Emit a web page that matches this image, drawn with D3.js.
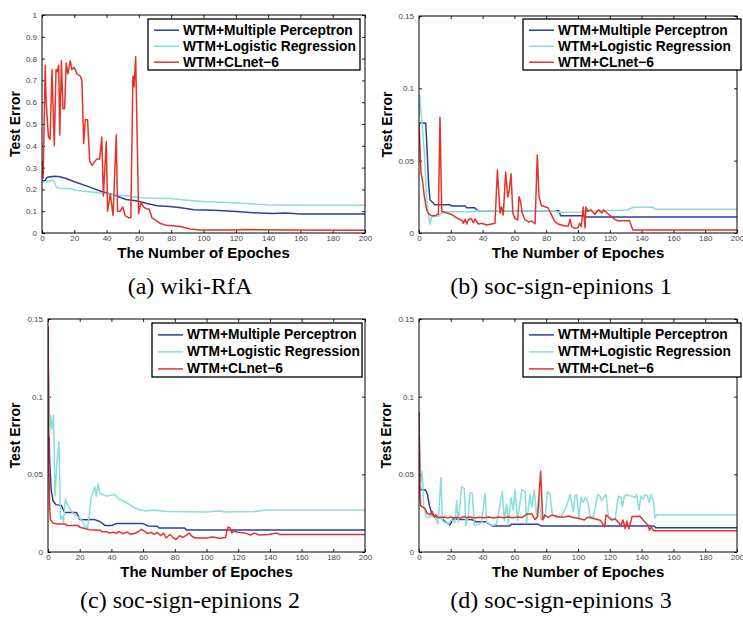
<!DOCTYPE html>
<html>
<head>
<meta charset="utf-8">
<script src="https://cdn.jsdelivr.net/npm/d3@7"></script>
<style>
body { margin: 0; background: #fff; }
text { font-family: Arial, "Liberation Sans", Helvetica, sans-serif; }
</style>
</head>
<body>
<div id="chartArea"></div>
<script>
var epochTicks = [0, 20, 40, 60, 80, 100, 120, 140, 160, 180, 200];
var rfaTicks = [0, 0.1, 0.2, 0.3, 0.4, 0.5, 0.6, 0.7, 0.8, 0.9, 1];
var epinionTicks = [0, 0.05, 0.1, 0.15];
var seriesNames = ['WTM+Multiple Perceptron', 'WTM+Logistic Regression', 'WTM+CLnet\u22126'];
var seriesColors = ['#2d3f9f', '#86dfd8', '#e4332a'];
var captions = ['(a) wiki-RfA', '(b) soc-sign-epinions 1', '(c) soc-sign-epinions 2', '(d) soc-sign-epinions 3'];

// (a) wiki-RfA  [epoch, test error]
var rfaMLP = [[0,0.24],[2,0.24],[3,0.255],[5,0.258],[8,0.26],[11,0.258],[15,0.25],[20,0.235],[28,0.215],[36,0.193],[44,0.176],[52,0.154],[59,0.147],[65,0.135],[71,0.125],[79,0.122],[86,0.116],[94,0.107],[106,0.104],[118,0.1],[131,0.093],[143,0.089],[151,0.092],[160,0.087],[200,0.087]];
var rfaLR = [[0,0.235],[3,0.235],[7,0.242],[9,0.21],[11,0.204],[17,0.204],[21,0.196],[36,0.184],[53,0.17],[61,0.162],[79,0.158],[90,0.15],[100,0.144],[119,0.139],[139,0.13],[160,0.127],[200,0.127]];
var rfaCL = [[0,0.33],[0.7,0.25],[2,0.77],[2.6,0.6],[4,0.44],[5,0.43],[6.2,0.75],[7.6,0.40],[8.7,0.75],[9.5,0.74],[10.3,0.77],[11,0.45],[12,0.79],[13,0.57],[14,0.57],[15,0.78],[16,0.73],[17.5,0.79],[18.5,0.75],[20,0.76],[21.6,0.73],[23.7,0.72],[24.7,0.70],[25.8,0.41],[26.8,0.52],[28.2,0.52],[29.5,0.33],[31,0.31],[34,0.34],[35.7,0.34],[37,0.44],[38,0.17],[39.8,0.42],[40.6,0.10],[42.3,0.18],[44,0.08],[46,0.45],[46.8,0.10],[48.5,0.10],[50,0.12],[51.5,0.08],[53.6,0.07],[55,0.07],[56.3,0.72],[57,0.67],[58,0.81],[59.8,0.09],[61.2,0.14],[62.9,0.12],[65,0.11],[66.4,0.11],[68,0.07],[73,0.045],[77,0.035],[85.6,0.03],[91.8,0.018],[98,0.014],[120,0.014],[126,0.016],[135,0.015],[150,0.014],[200,0.013]];

// (b) soc-sign-epinions 1
var ep1MLP = [[0,0.076],[4.2,0.076],[5,0.06],[6,0.035],[6.9,0.023],[10,0.0195],[13,0.0195],[19.5,0.0195],[20.5,0.0187],[29,0.0187],[30,0.0175],[35,0.0175],[37,0.0154],[88,0.0154],[89,0.012],[104,0.012],[105,0.011],[200,0.011]];
var ep1LR = [[0,0.08],[0.4,0.095],[1.2,0.085],[3.4,0.055],[4.8,0.024],[5.9,0.0124],[6.9,0.0062],[8,0.0113],[12,0.0115],[14,0.0136],[18,0.0147],[35,0.0147],[37,0.0154],[85,0.0154],[88,0.0143],[102,0.0145],[104,0.015],[131,0.0159],[135,0.0178],[147,0.0178],[149,0.0164],[200,0.0164]];
var ep1CL = [[0,0.076],[0.6,0.06],[1.3,0.041],[2.1,0.037],[3.4,0.025],[4.8,0.016],[6.3,0.013],[8,0.012],[10,0.012],[12.2,0.013],[13.2,0.08],[14.3,0.0147],[15.3,0.0147],[17.4,0.0138],[20.5,0.0129],[22.6,0.0113],[24.7,0.0097],[26.8,0.009],[27.9,0.0067],[28.9,0.0095],[30,0.0062],[31,0.009],[32.7,0.0101],[34.2,0.0071],[35.2,0.0097],[37.3,0.0062],[39.4,0.0067],[42.5,0.0055],[45.7,0.0062],[47.8,0.0067],[49.3,0.0435],[51,0.0136],[52,0.018],[53,0.0124],[54.5,0.042],[55.8,0.025],[56.8,0.0297],[57.9,0.041],[59,0.0136],[60.4,0.0101],[62.1,0.009],[62.9,0.025],[63.8,0.0223],[65,0.0133],[66.7,0.0092],[68.8,0.0076],[70.9,0.0083],[73,0.0064],[74.4,0.054],[75.5,0.025],[77,0.019],[79.2,0.0182],[81.3,0.0173],[82.4,0.0147],[83.4,0.0124],[85.5,0.0078],[87.6,0.0062],[89.7,0.0055],[91.8,0.0048],[93.9,0.0048],[95,0.0095],[96,0.0044],[98,0.0032],[100,0.0037],[101,0.0067],[102,0.0044],[103.3,0.018],[104.4,0.0035],[105,0.018],[106,0.015],[108,0.016],[110.6,0.0128],[112,0.015],[113,0.016],[115,0.0138],[116,0.016],[118.6,0.0135],[121.2,0.0112],[123.3,0.0094],[125,0.0085],[132.4,0.0085],[134.5,0.002],[200,0.002]];

// (c) soc-sign-epinions 2
var ep2MLP = [[0,0.145],[0.5,0.09],[1,0.06],[2,0.04],[3.2,0.033],[5,0.0305],[8.4,0.03],[10.5,0.0255],[18,0.0255],[20,0.021],[25,0.0208],[29,0.021],[33,0.0195],[36,0.017],[40,0.017],[43,0.0183],[60,0.0183],[63,0.0168],[69,0.0165],[70,0.0155],[86,0.0155],[87.5,0.0141],[200,0.0141]];
var ep2LR = [[0,0.135],[0.8,0.074],[1.5,0.088],[2.5,0.079],[3.5,0.088],[4.4,0.036],[5.6,0.057],[6.9,0.071],[7.9,0.021],[9,0.023],[9.8,0.019],[10.9,0.034],[12.5,0.03],[15.7,0.025],[21,0.021],[23.5,0.0165],[25,0.0155],[27.3,0.035],[29.5,0.042],[30.5,0.036],[31.6,0.044],[32.6,0.038],[36.8,0.036],[42,0.037],[45,0.034],[49.3,0.032],[53.5,0.029],[58,0.027],[62,0.0264],[66,0.027],[75,0.026],[100,0.0258],[108,0.0264],[112,0.0258],[130,0.026],[138,0.027],[200,0.027]];
var ep2CL = [[0,0.145],[0.5,0.06],[1,0.03],[1.5,0.021],[3,0.0187],[6,0.018],[11,0.018],[12,0.017],[19,0.017],[20,0.016],[24,0.015],[26,0.0144],[33,0.014],[34,0.013],[37,0.013],[39,0.0122],[41,0.0128],[43,0.012],[45,0.0132],[47,0.0118],[50,0.0128],[52,0.0115],[55,0.012],[57,0.0132],[59,0.0146],[61,0.0133],[63,0.0118],[65,0.0127],[67,0.0113],[69,0.0126],[71,0.0106],[73,0.0121],[74.5,0.009],[77,0.0113],[79,0.0092],[80.8,0.008],[83,0.0105],[85,0.0094],[87,0.0105],[89,0.0122],[91,0.01],[93,0.009],[100,0.009],[104,0.0097],[108,0.0088],[112,0.0094],[113.4,0.016],[115,0.0155],[116,0.0122],[117,0.0133],[120,0.0127],[124,0.0123],[128,0.011],[130,0.0122],[133,0.011],[139,0.0113],[144.4,0.0122],[146,0.0112],[200,0.0112]];

// (d) soc-sign-epinions 3
var ep3MLP = [[0,0.09],[0.5,0.05],[1,0.04],[4,0.04],[5.4,0.037],[6.5,0.03],[8.4,0.0238],[10,0.0223],[14,0.0223],[16.4,0.0195],[19.5,0.0174],[21.6,0.0216],[25,0.0209],[33,0.0209],[36,0.0195],[42,0.0195],[44,0.018],[46,0.0168],[57,0.0168],[58,0.0178],[75,0.0178],[77,0.0167],[147.8,0.0167],[149,0.0156],[200,0.0156]];
var ep3LR = [[0.5,0.04],[2,0.052],[3,0.029],[4.8,0.022],[8,0.023],[10,0.023],[12,0.018],[13.8,0.048],[14.7,0.02],[18.5,0.018],[20.5,0.021],[22.6,0.019],[23.7,0.033],[24.7,0.019],[26.8,0.042],[28.5,0.041],[29.4,0.017],[31,0.023],[32,0.038],[33.5,0.038],[34.8,0.017],[37.3,0.018],[39.4,0.019],[41.5,0.038],[42.6,0.019],[45.7,0.017],[48.8,0.018],[52.4,0.039],[53.7,0.02],[55.1,0.031],[56.2,0.018],[57.9,0.035],[59.3,0.027],[60.4,0.04],[62,0.02],[64.6,0.04],[66.7,0.039],[67.7,0.019],[69.8,0.037],[70.9,0.029],[72.5,0.04],[74,0.022],[75.5,0.035],[76.7,0.021],[79.2,0.022],[80.9,0.039],[82.4,0.037],[83.9,0.024],[86.6,0.022],[89.7,0.023],[92.9,0.030],[95,0.037],[97.1,0.026],[98.1,0.036],[99.2,0.037],[100.6,0.022],[101.9,0.035],[103.4,0.032],[104.8,0.035],[106.5,0.031],[107.5,0.023],[109.6,0.022],[112.4,0.037],[113.8,0.036],[114.9,0.033],[116.6,0.036],[117.6,0.037],[118.7,0.026],[119.5,0.022],[120.8,0.022],[122.2,0.021],[123.3,0.021],[125.4,0.036],[127.1,0.035],[127.9,0.029],[129.2,0.036],[130.6,0.037],[132.7,0.036],[134.2,0.036],[135.8,0.035],[136.9,0.037],[138.4,0.027],[139.6,0.036],[141.1,0.034],[142.1,0.037],[143.8,0.036],[144.6,0.032],[145.9,0.037],[147.4,0.033],[148.4,0.022],[149.4,0.024],[200,0.024]];
var ep3CL = [[0,0.09],[0.5,0.04],[1,0.03],[2,0.029],[3.8,0.028],[5,0.025],[6.9,0.024],[8.4,0.026],[9.6,0.0223],[10.5,0.024],[12,0.022],[14,0.0222],[16,0.0225],[18,0.0218],[20,0.0225],[22,0.022],[24,0.0224],[26,0.0218],[28,0.0228],[30,0.0222],[32,0.0225],[35,0.0219],[38,0.0224],[41,0.022],[44,0.0226],[47,0.0219],[50,0.0225],[53,0.0221],[56,0.0226],[59,0.022],[62,0.0226],[65,0.0222],[68,0.0245],[71,0.0245],[73,0.0209],[74.6,0.0227],[76.5,0.052],[77.8,0.0206],[79.2,0.0238],[81.3,0.0223],[83.4,0.0238],[87.6,0.0227],[90.7,0.0223],[94,0.0232],[97,0.0222],[100,0.0217],[104,0.0206],[106,0.0223],[110,0.0215],[114,0.0205],[116.8,0.0162],[117.6,0.024],[121,0.0206],[123.5,0.0212],[127,0.0172],[128.3,0.0206],[129.7,0.015],[130.7,0.0199],[132,0.015],[134,0.0228],[139,0.023],[141,0.0206],[144,0.0172],[145,0.014],[146,0.0162],[147.5,0.0137],[200,0.0137]];

var panels = [
    {left: 42, top: 15, right: 365, bottom: 233, yMax: 1, yTicks: rfaTicks, series: [rfaMLP, rfaLR, rfaCL],
        labelX: 20, lx: 148, ly: 19, lw: 212, lh: 51, gap: 16, capX: 190, capY: 294},
    {left: 419, top: 16, right: 737, bottom: 233, yMax: 0.15, yTicks: epinionTicks, series: [ep1MLP, ep1LR, ep1CL],
        labelX: 392, lx: 523, ly: 19, lw: 218, lh: 51, gap: 16, capX: 561, capY: 294},
    {left: 48, top: 319, right: 365, bottom: 552, yMax: 0.15, yTicks: epinionTicks, series: [ep2MLP, ep2LR, ep2CL],
        labelX: 20, lx: 152, ly: 323, lw: 210, lh: 54, gap: 17, capX: 190, capY: 608},
    {left: 419, top: 319, right: 737, bottom: 552, yMax: 0.15, yTicks: epinionTicks, series: [ep3MLP, ep3LR, ep3CL],
        labelX: 391, lx: 523, ly: 323, lw: 218, lh: 54, gap: 17, capX: 561, capY: 608}
];

var w = 743, h = 620;

var svg = d3.select('#chartArea').append('svg')
    .attr('width', w)
    .attr('height', h)
    .style('display', 'block');

svg.append('rect').attr('width', w).attr('height', h).attr('fill', '#fff');

panels.forEach(function (p, i) {
    var xScale = d3.scaleLinear().domain([0, 200]).range([p.left, p.right]);
    var yScale = d3.scaleLinear().domain([0, p.yMax]).range([p.bottom, p.top]);
    var g = svg.append('g');

    g.append('clipPath').attr('id', 'clip' + i)
        .append('rect')
        .attr('x', p.left).attr('y', p.top)
        .attr('width', p.right - p.left).attr('height', p.bottom - p.top);

    // matlab style: ticks inside on all four sides
    var tick = 3;
    g.append('g').attr('transform', 'translate(0,' + p.bottom + ')')
        .call(d3.axisBottom(xScale).tickValues(epochTicks).tickSize(-tick).tickPadding(2).tickFormat(d3.format('d')));
    g.append('g').attr('transform', 'translate(0,' + p.top + ')')
        .call(d3.axisTop(xScale).tickValues(epochTicks).tickSize(-tick).tickFormat(''));
    g.append('g').attr('transform', 'translate(' + p.left + ',0)')
        .call(d3.axisLeft(yScale).tickValues(p.yTicks).tickSize(-tick).tickPadding(5).tickFormat(function (d) { return String(d); }));
    g.append('g').attr('transform', 'translate(' + p.right + ',0)')
        .call(d3.axisRight(yScale).tickValues(p.yTicks).tickSize(-tick).tickFormat(''));

    g.selectAll('.domain').remove();
    g.selectAll('.tick line').attr('stroke', '#222');
    g.selectAll('.tick text').attr('font-size', 8).attr('fill', '#444')
        .style('font-family', 'Arial, "Liberation Sans", sans-serif');

    var line = d3.line()
        .x(function (d) { return xScale(d[0]); })
        .y(function (d) { return yScale(d[1]); });

    g.append('g').attr('clip-path', 'url(#clip' + i + ')')
        .selectAll('path')
        .data(p.series)
        .enter()
        .append('path')
        .attr('d', line)
        .attr('fill', 'none')
        .attr('stroke', function (d, k) { return seriesColors[k]; })
        .attr('stroke-width', 1.5)
        .attr('stroke-linejoin', 'round');

    g.append('rect')
        .attr('x', p.left).attr('y', p.top)
        .attr('width', p.right - p.left).attr('height', p.bottom - p.top)
        .attr('fill', 'none').attr('stroke', '#000').attr('stroke-width', 1);

    // legend
    var lg = g.append('g').attr('transform', 'translate(' + p.lx + ',' + p.ly + ')');
    lg.append('rect')
        .attr('width', p.lw).attr('height', p.lh)
        .attr('fill', '#fff').attr('stroke', '#000').attr('stroke-width', 1.3);
    var rows = lg.selectAll('.row')
        .data(seriesNames)
        .enter()
        .append('g')
        .attr('transform', function (d, k) { return 'translate(0,' + (p.gap * 0.7 + k * p.gap) + ')'; });
    rows.append('line')
        .attr('x1', 6).attr('x2', 31)
        .attr('stroke', function (d, k) { return seriesColors[k]; })
        .attr('stroke-width', 1.5);
    rows.append('text')
        .attr('x', 35).attr('y', 4.5)
        .attr('font-size', 13.8).attr('font-weight', 'bold')
        .text(function (d) { return d; });

    g.append('text')
        .attr('transform', 'translate(' + p.labelX + ',' + ((p.top + p.bottom) / 2) + ') rotate(-90)')
        .attr('text-anchor', 'middle')
        .attr('font-size', 14).attr('font-weight', 'bold')
        .text('Test Error');

    g.append('text')
        .attr('x', (p.left + p.right) / 2).attr('y', p.bottom + 24.5)
        .attr('text-anchor', 'middle')
        .attr('font-size', 15).attr('font-weight', 'bold')
        .text('The Number of Epoches');

    g.append('text')
        .attr('x', p.capX).attr('y', p.capY)
        .attr('text-anchor', 'middle')
        .attr('font-size', 24)
        .style('font-family', '"Liberation Serif", "Times New Roman", serif')
        .text(captions[i]);
});
</script>
</body>
</html>
